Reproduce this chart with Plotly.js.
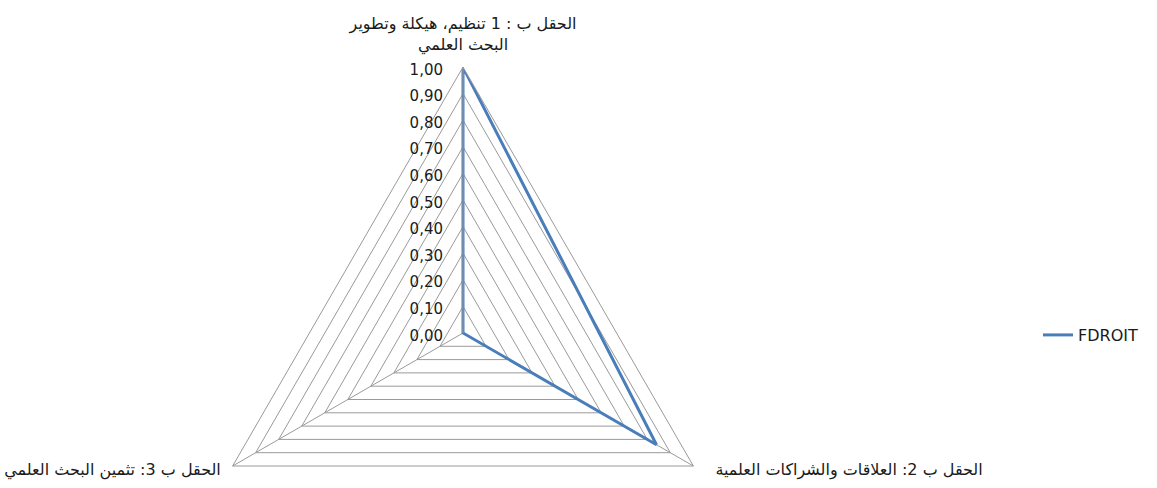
<!DOCTYPE html>
<html>
<head>
<meta charset="utf-8">
<script src="https://cdn.plot.ly/plotly-3.0.1.min.js"></script>
<style>
html, body { margin:0; padding:0; width:1157px; height:488px; overflow:hidden; background:#fff; }
#chart { width:1157px; height:700px; }
</style>
</head>
<body>
<div id="chart"></div>
<script>
// Data
var categories = ['c1', 'c2', 'c3'];
var categoryLabels = [
  'الحقل ب : 1 تنظيم، هيكلة وتطوير<br>البحث العلمي',
  'الحقل ب 2: العلاقات والشراكات العلمية',
  'الحقل ب 3: تثمين البحث العلمي'
];
var seriesName = 'FDROIT';
var seriesValues = [1.00, 0.84, 0.00];
var radialTicks = [0, 0.1, 0.2, 0.3, 0.4, 0.5, 0.6, 0.7, 0.8, 0.9, 1.0];

// presentation helpers for the label placement (padding only)
var NB = '\u00A0';
var tickText = [
  categoryLabels[0],
  NB + NB + categoryLabels[1] + '<br>' + NB + '<br>' + NB,
  categoryLabels[2] + '<br>' + NB + '<br>' + NB
];

var H = 700;
var cx = 463, cy = 333, R = 266;

var trace = {
  type: 'scatterpolar',
  mode: 'lines',
  name: seriesName,
  r: seriesValues.concat([seriesValues[0]]),
  theta: categories.concat([categories[0]]),
  line: { color: '#4A7EBB', width: 3 },
  showlegend: true,
  hoverinfo: 'skip'
};

var layout = {
  width: 1157, height: H,
  margin: { l: 0, r: 0, t: 0, b: 0 },
  paper_bgcolor: '#fff',
  separators: ', ',
  font: { family: 'DejaVu Sans, sans-serif', color: '#1a1a1a', size: 16 },
  showlegend: true,
  legend: {
    x: 1038 / 1157, xanchor: 'left',
    y: (H - 335) / H, yanchor: 'middle',
    font: { family: 'DejaVu Sans, sans-serif', size: 16, color: '#1a1a1a' },
    bgcolor: 'rgba(0,0,0,0)'
  },
  polar: {
    domain: { x: [(cx - R) / 1157, (cx + R) / 1157], y: [(H - cy - R) / H, (H - cy + R) / H] },
    bgcolor: '#fff',
    gridshape: 'linear',
    angularaxis: {
      type: 'category',
      categoryarray: categories,
      tickvals: categories,
      ticktext: tickText,
      rotation: 90,
      direction: 'clockwise',
      showgrid: true,
      gridcolor: '#9a9a9a',
      gridwidth: 1,
      showline: true,
      linecolor: '#9a9a9a',
      linewidth: 1,
      ticks: 'outside',
      ticklen: 10,
      tickcolor: 'rgba(0,0,0,0)',
      tickfont: { family: 'DejaVu Sans, sans-serif', size: 16, color: '#1a1a1a' }
    },
    radialaxis: {
      range: [0, 1],
      angle: 90,
      side: 'counterclockwise',
      tickvals: radialTicks,
      tickformat: '.2f',
      showgrid: true,
      gridcolor: '#9a9a9a',
      gridwidth: 1,
      showline: true,
      linecolor: '#9a9a9a',
      ticks: 'outside',
      ticklen: 6,
      tickcolor: 'rgba(0,0,0,0)',
      tickfont: { family: 'DejaVu Sans, sans-serif', size: 15, color: '#1a1a1a' }
    }
  }
};

Plotly.newPlot('chart', [trace], layout, { staticPlot: true, displayModeBar: false });
</script>
</body>
</html>
